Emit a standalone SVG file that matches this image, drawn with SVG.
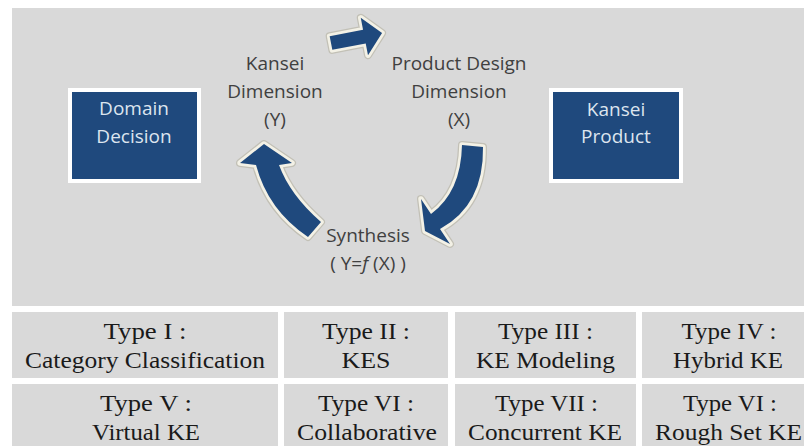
<svg xmlns="http://www.w3.org/2000/svg" width="804" height="446" viewBox="0 0 804 446">
<style>
.lbl{font-family:"Open Sans","Noto Sans",sans-serif;font-size:19px;fill:#404040;text-anchor:middle}
.box{fill:#1f497d;stroke:#ffffff;stroke-width:4}
.boxt{font-family:"Open Sans","Noto Sans",sans-serif;font-size:19px;fill:#dde5ef;text-anchor:middle}
.cell{fill:#d9d9d9}
.ct{font-family:"Liberation Serif","Times New Roman",serif;font-size:22.5px;fill:#1a1a1a;text-anchor:middle}
.arrO{fill:none;stroke:#c2c0b6;stroke-width:8;stroke-linejoin:round}
.arr{fill:#1f497d;stroke:#f3f1e6;stroke-width:5.5;stroke-linejoin:round;paint-order:stroke}
</style>
<defs>
<path id="aTop" d="M0,-7 L34,-7 L34,-19 L52,0 L34,19 L34,7 L0,7 Z"/>
<path id="aLeft" d="M264,144 L292,163 L279,165 Q290,195 321,222 L308,237 Q268,210 256,165 L240,163 Z"/>
<path id="aRight" d="M462,145 L483,147 Q484,205 440,229 L450,244 L425,231 L421,199 L431,214 Q461,192 462,145 Z"/>
</defs>
<rect x="0" y="0" width="804" height="446" fill="#ffffff"/>
<rect x="12" y="8" width="792" height="298" fill="#d9d9d9"/>
<g id="connectors">
<g transform="translate(331,43) rotate(-11)">
<use href="#aTop" class="arrO"/>
<use href="#aTop" class="arr"/>
</g>
<use href="#aLeft" class="arrO"/>
<use href="#aLeft" class="arr"/>
<use href="#aRight" class="arrO"/>
<use href="#aRight" class="arr"/>
</g>
<g id="domain-decision">
<rect class="box" x="70" y="90" width="129" height="91"/>
<text class="boxt" x="134" y="115">Domain</text>
<text class="boxt" x="134" y="143">Decision</text>
</g>
<g id="kansei-product">
<rect class="box" x="551" y="90" width="130" height="91"/>
<text class="boxt" x="616" y="116">Kansei</text>
<text class="boxt" x="616" y="143">Product</text>
</g>
<g id="kansei-dimension">
<text class="lbl" x="275" y="70">Kansei</text>
<text class="lbl" x="275" y="98">Dimension</text>
<text class="lbl" x="275" y="126">(Y)</text>
</g>
<g id="product-design-dimension">
<text class="lbl" x="459" y="70">Product Design</text>
<text class="lbl" x="459" y="98">Dimension</text>
<text class="lbl" x="459" y="126">(X)</text>
</g>
<g id="synthesis">
<text class="lbl" x="368" y="242">Synthesis</text>
<text class="lbl" x="368" y="270">( Y=<tspan font-style="italic">f</tspan> (X) )</text>
</g>
<g id="type1"><rect class="cell" x="12" y="312" width="266" height="66"/>
<text class="ct" x="145" y="339" textLength="83" lengthAdjust="spacingAndGlyphs">Type I :</text><text class="ct" x="145" y="368" textLength="240" lengthAdjust="spacingAndGlyphs">Category Classification</text></g>
<g id="type2"><rect class="cell" x="284" y="312" width="164" height="66"/>
<text class="ct" x="366" y="339" textLength="88" lengthAdjust="spacingAndGlyphs">Type II :</text><text class="ct" x="366" y="368" textLength="49" lengthAdjust="spacingAndGlyphs">KES</text></g>
<g id="type3"><rect class="cell" x="455" y="312" width="181" height="66"/>
<text class="ct" x="545.5" y="339" textLength="95" lengthAdjust="spacingAndGlyphs">Type III :</text><text class="ct" x="545.5" y="368" textLength="139" lengthAdjust="spacingAndGlyphs">KE Modeling</text></g>
<g id="type4"><rect class="cell" x="642" y="312" width="162" height="66"/>
<text class="ct" x="729" y="339" textLength="95" lengthAdjust="spacingAndGlyphs">Type IV :</text><text class="ct" x="728" y="368" textLength="110" lengthAdjust="spacingAndGlyphs">Hybrid KE</text></g>
<g id="type5"><rect class="cell" x="12" y="384" width="266" height="62"/>
<text class="ct" x="146" y="411" textLength="92" lengthAdjust="spacingAndGlyphs">Type V :</text><text class="ct" x="146" y="440" textLength="108" lengthAdjust="spacingAndGlyphs">Virtual KE</text></g>
<g id="type6"><rect class="cell" x="284" y="384" width="164" height="62"/>
<text class="ct" x="366" y="411" textLength="96" lengthAdjust="spacingAndGlyphs">Type VI :</text><text class="ct" x="367" y="440" textLength="140" lengthAdjust="spacingAndGlyphs">Collaborative</text></g>
<g id="type7"><rect class="cell" x="455" y="384" width="181" height="62"/>
<text class="ct" x="546.5" y="411" textLength="103" lengthAdjust="spacingAndGlyphs">Type VII :</text><text class="ct" x="545" y="440" textLength="154" lengthAdjust="spacingAndGlyphs">Concurrent KE</text></g>
<g id="type8"><rect class="cell" x="642" y="384" width="162" height="62"/>
<text class="ct" x="730" y="411" textLength="94" lengthAdjust="spacingAndGlyphs">Type VI :</text><text class="ct" x="728.5" y="440" textLength="147" lengthAdjust="spacingAndGlyphs">Rough Set KE</text></g>
</svg>
